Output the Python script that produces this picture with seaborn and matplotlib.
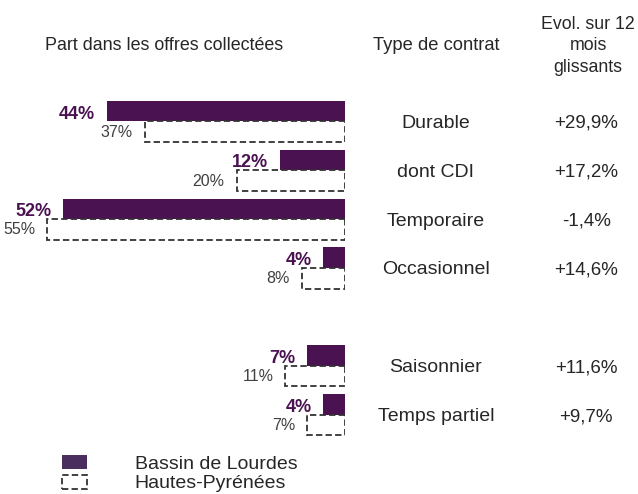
import seaborn as sns
import pandas as pd
import matplotlib.pyplot as plt
from matplotlib.patches import Patch
import matplotlib.transforms as mtransforms

# data
categories = ["Durable", "dont CDI", "Temporaire", "Occasionnel", "Saisonnier", "Temps partiel"]
lourdes = [44, 12, 52, 4, 7, 4]
hautes_pyrenees = [37, 20, 55, 8, 11, 7]
evolution = ["+29,9%", "+17,2%", "-1,4%", "+14,6%", "+11,6%", "+9,7%"]
series = ["Bassin de Lourdes", "Hautes-Pyrénées"]

# blank slot between Occasionnel and Saisonnier
order = categories[:4] + [" "] + categories[4:]

purple = "#4a1250"
grey_txt = "#404040"
dash = (0, (3.5, 1.8))

d = pd.DataFrame({
    "contrat": categories * 2,
    "part": lourdes + hautes_pyrenees,
    "zone": [series[0]] * len(categories) + [series[1]] * len(categories),
})

sns.set_style("white")
plt.rcParams['font.family'] = ['Liberation Sans', 'DejaVu Sans']

fig = plt.figure(figsize=(6.38, 4.94), dpi=100)
ax = fig.add_axes([0.0313, 0.1115, 0.5094, 0.692])

sns.barplot(data=d, y="contrat", x="part", hue="zone", order=order, hue_order=series,
            palette={series[0]: purple, series[1]: "white"}, orient="h",
            width=0.84, dodge=True, saturation=1, legend=False, ax=ax)

# dashed outline for the department series
for bar in ax.containers[1]:
    bar.set_edgecolor("#333333")
    bar.set_linestyle(dash)
    bar.set_linewidth(1.3)
for bar in ax.containers[0]:
    bar.set_edgecolor("none")

ax.set_xlim(60, 0)
ax.set_ylim(len(order) - 0.5, -0.5)
ax.set_axis_off()

# value labels
for cat, a, b in zip(categories, lourdes, hautes_pyrenees):
    pos = order.index(cat)
    ax.text(a + 2.2, pos - 0.15, f"{a}%", ha="right", va="center", fontsize=13,
            fontweight="bold", color=purple)
    ax.text(b + 2.2, pos + 0.22, f"{b}%", ha="right", va="center", fontsize=11.5,
            color=grey_txt)

# category names and evolution column
trans = mtransforms.blended_transform_factory(fig.transFigure, ax.transData)
for cat, ev in zip(categories, evolution):
    pos = order.index(cat)
    ax.text(0.683, pos, cat, transform=trans, ha="center", va="center_baseline",
            fontsize=14, color="#262626")
    ax.text(0.919, pos, ev, transform=trans, ha="center", va="center_baseline",
            fontsize=13.5, color="#262626")

# headers
fig.text(164 / 638, 1 - 46 / 494, "Part dans les offres collectées", ha="center", va="center",
         fontsize=12.9, color="#262626")
fig.text(436 / 638, 1 - 46 / 494, "Type de contrat", ha="center", va="center",
         fontsize=13.2, color="#262626")
fig.text(588 / 638, 1 - 46 / 494, "Evol. sur 12\nmois\nglissants", ha="center", va="center",
         fontsize=12.8, color="#262626", linespacing=1.32)

# legend
handles = [Patch(facecolor="#4a2f5e", edgecolor="none"),
           Patch(facecolor="white", edgecolor="#333333", linestyle=dash, linewidth=1.3)]
fig.legend(handles, series, loc="upper left", bbox_to_anchor=(52 / 638, 1 - 445 / 494),
           frameon=False, fontsize=14, handlelength=1.3, handleheight=0.75,
           handletextpad=2.45, labelspacing=0.1, borderpad=0, labelcolor="#262626")

fig.savefig("out.png", dpi=100)
